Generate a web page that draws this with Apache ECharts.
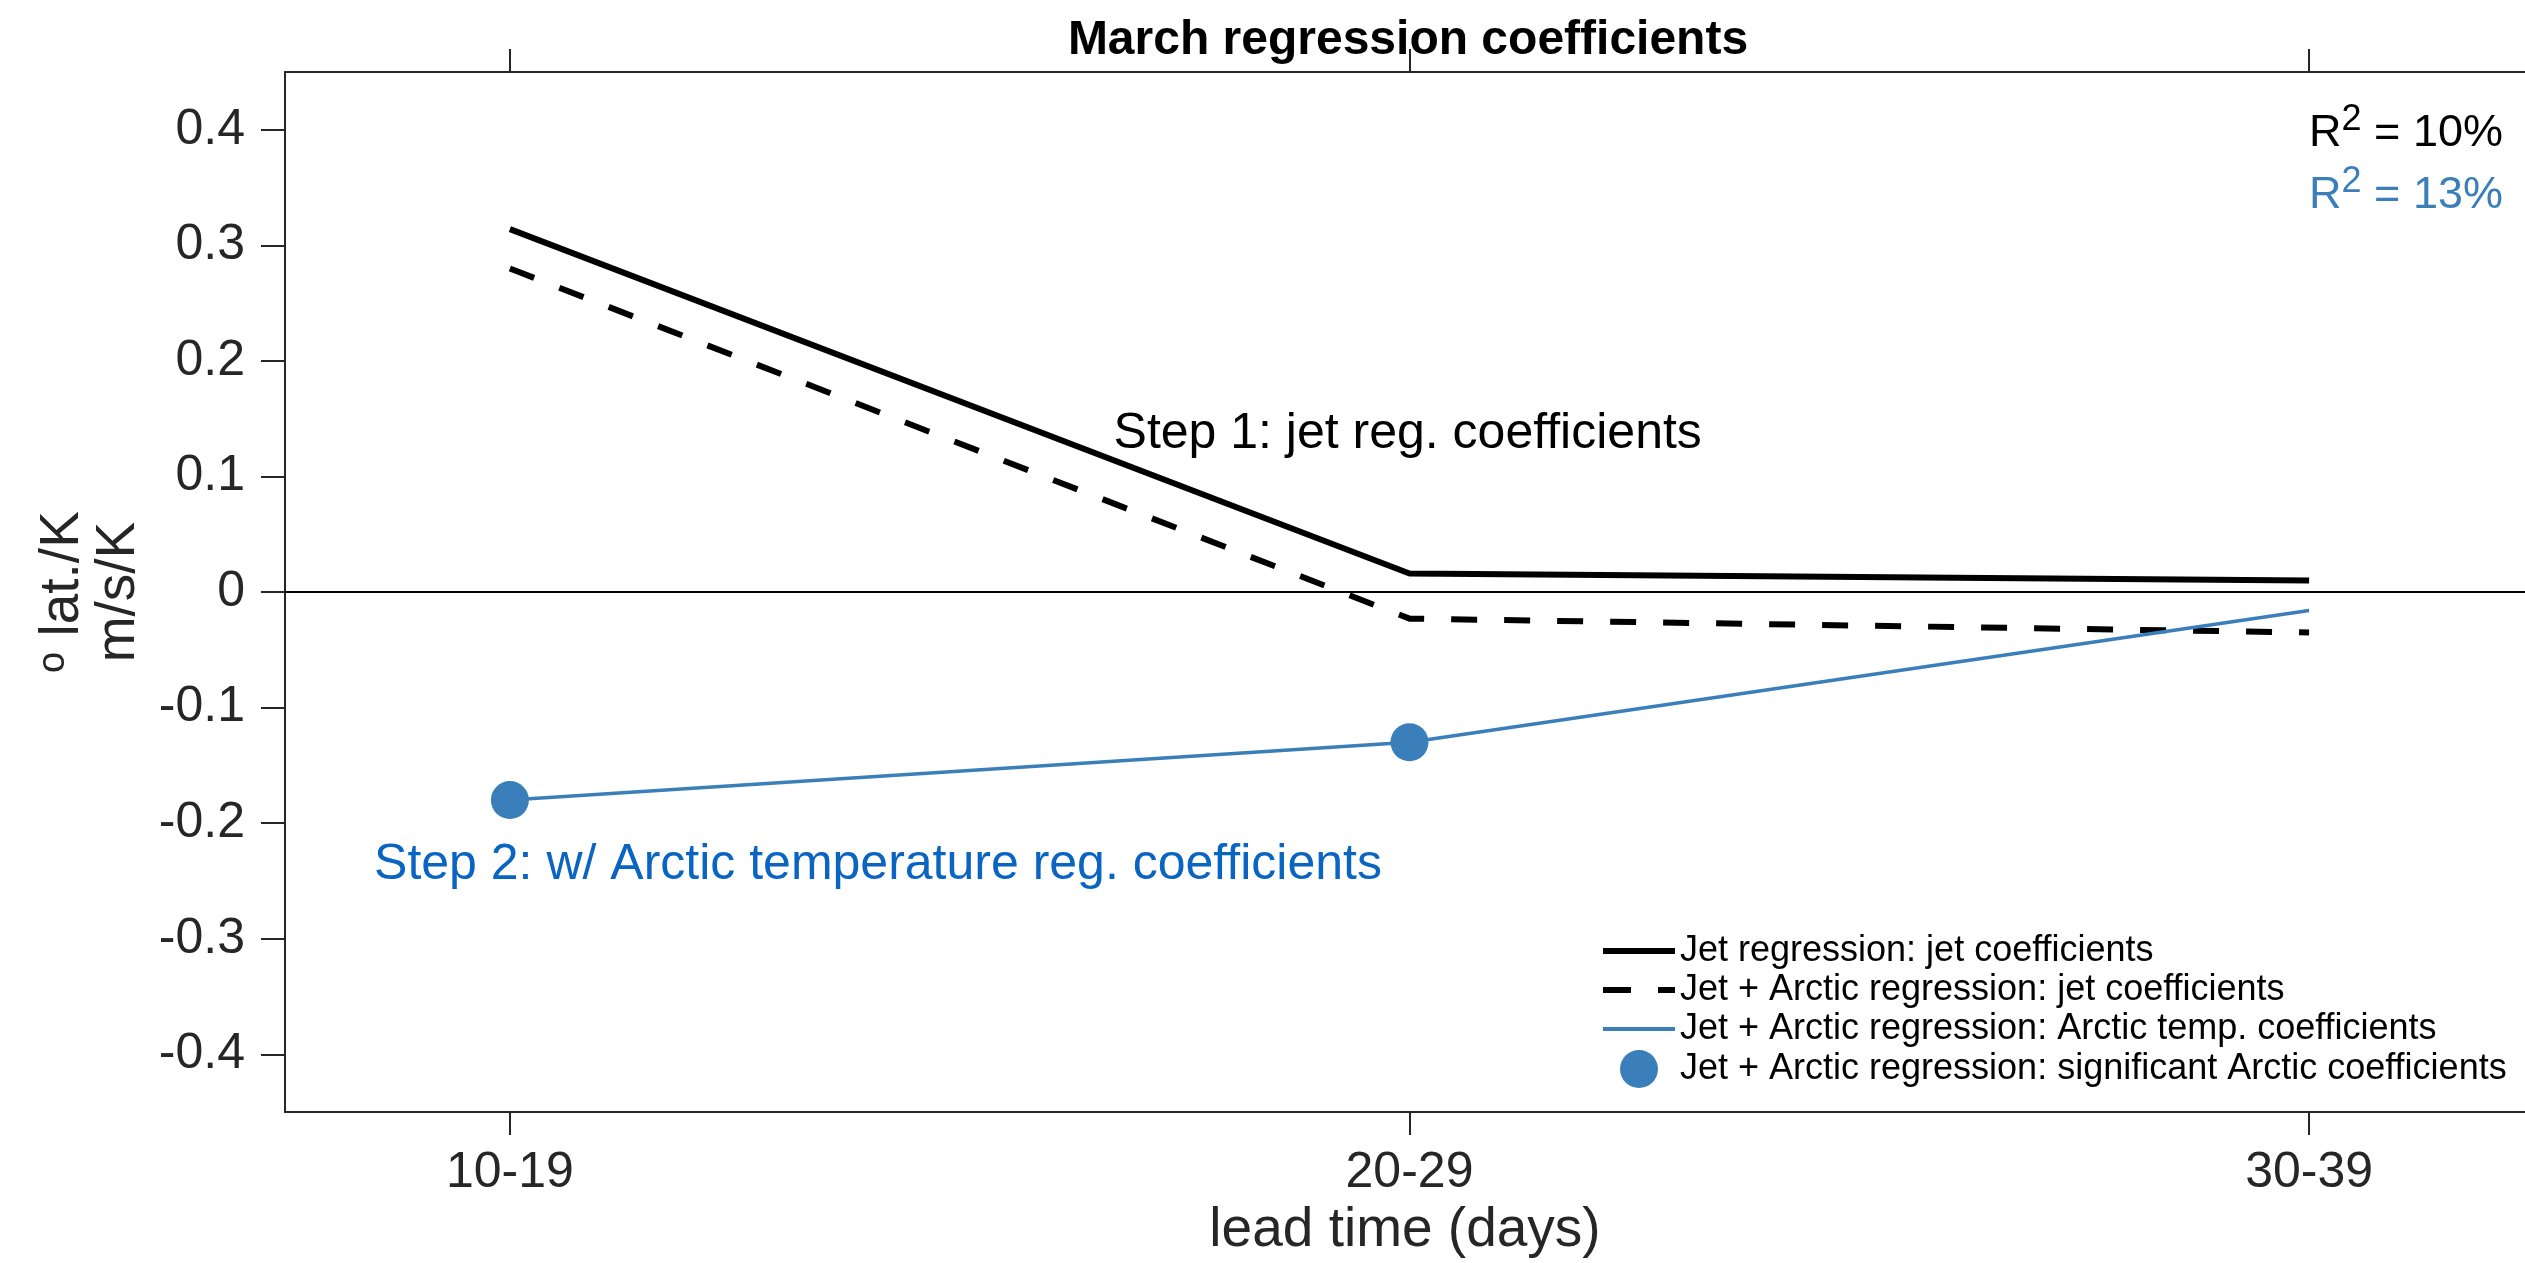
<!DOCTYPE html>
<html><head><meta charset="utf-8">
<script src="https://cdn.jsdelivr.net/npm/echarts@6/dist/echarts.min.js"></script>
<style>html,body{margin:0;padding:0;background:#fff}#c{width:2525px;height:1263px}</style>
</head><body><div id="c"></div>
<script>
// ---- data ----
const leadTimes = ['10-19', '20-29', '30-39'];
const leadPos = [1, 2, 3];
const jetOnly = [0.314, 0.016, 0.010];
const jetWithArctic = [0.280, -0.023, -0.035];
const arcticCoef = [-0.180, -0.130, -0.016];
const arcticSignificant = [true, true, false];
const yTicks = [-0.4, -0.3, -0.2, -0.1, 0, 0.1, 0.2, 0.3, 0.4];
const legendNames = [
  'Jet regression: jet coefficients',
  'Jet + Arctic regression: jet coefficients',
  'Jet + Arctic regression: Arctic temp. coefficients',
  'Jet + Arctic regression: significant Arctic coefficients'
];
const r2Jet = '10%';
const r2Arctic = '13%';

// ---- styling ----
const FONT = '"Liberation Sans", Arial, Helvetica, sans-serif';
const AX = '#262626';
const BLUE = '#3a7eba';
const BLUE_TXT = '#0a64c2';

const pts = arr => arr.map((v, i) => [leadPos[i], v]);
const sigPts = arcticCoef.map((v, i) => arcticSignificant[i] ? [leadPos[i], v] : null).filter(Boolean);

const chart = echarts.init(document.getElementById('c'), null, {renderer: 'canvas'});

const option = {
  animation: false,
  backgroundColor: '#fff',
  textStyle: {fontFamily: FONT},
  title: {
    text: 'March regression coefficients', left: 1408, top: 17, textAlign: 'center', padding: 0,
    textStyle: {fontSize: 48, fontWeight: 'bold', color: '#000', fontFamily: FONT}
  },
  grid: {left: 285, right: 0, top: 72, bottom: 147, containLabel: false},
  xAxis: [{
    type: 'value', position: 'bottom', min: 0.75, max: 3.24,
    name: 'lead time (days)', nameLocation: 'middle', nameGap: 88,
    nameTextStyle: {fontSize: 55, color: AX, fontFamily: FONT},
    axisLine: {show: true, onZero: false, lineStyle: {color: AX, width: 2}},
    axisTick: {show: true, inside: false, length: 23, customValues: leadPos, lineStyle: {color: AX, width: 2}},
    axisLabel: {show: true, customValues: leadPos, margin: 36, fontSize: 50, color: AX, fontFamily: FONT,
      formatter: v => leadTimes[Math.round(v) - 1]},
    splitLine: {show: false}
  }, {
    type: 'value', position: 'top', min: 0.75, max: 3.24,
    axisLine: {show: true, onZero: false, lineStyle: {color: AX, width: 2}},
    axisTick: {show: true, inside: false, length: 23, customValues: leadPos, lineStyle: {color: AX, width: 2}},
    axisLabel: {show: false},
    splitLine: {show: false}
  }],
  yAxis: {
    type: 'value', position: 'left', min: -0.45, max: 0.45,
    name: '{s|o} {m|lat./K}\n{m|m/s/K}', nameLocation: 'middle', nameRotate: 90, nameGap: 138,
    nameTextStyle: {
      color: AX, fontFamily: FONT, fontSize: 55, lineHeight: 56,
      rich: {
        s: {fontSize: 38, lineHeight: 6, verticalAlign: 'top', color: AX, fontFamily: FONT},
        m: {fontSize: 55, lineHeight: 56, color: AX, fontFamily: FONT}
      }
    },
    axisLine: {show: true, onZero: false, lineStyle: {color: AX, width: 2}},
    axisTick: {show: true, inside: false, length: 24, customValues: yTicks, lineStyle: {color: AX, width: 2}},
    axisLabel: {customValues: yTicks, margin: 40, fontSize: 50, color: AX, fontFamily: FONT,
      formatter: v => Math.abs(v) < 1e-9 ? '0' : v.toFixed(1)},
    splitLine: {show: false}
  },
  legend: {
    orient: 'vertical', left: 1603, top: 933, padding: 0, itemGap: 3,
    itemWidth: 72, itemHeight: 38, selectedMode: false,
    textStyle: {fontSize: 36, color: '#000', fontFamily: FONT},
    data: [
      {name: legendNames[0], icon: 'path://M0,0H72V6H0Z', itemStyle: {color: '#000', borderWidth: 0, opacity: 1}},
      {name: legendNames[1], icon: 'path://M0,0H28V6H0Z M55,0H72V6H55Z', itemStyle: {color: '#000', borderWidth: 0, opacity: 1}},
      {name: legendNames[2], icon: 'path://M0,0H72V4H0Z', itemStyle: {color: BLUE, borderWidth: 0, opacity: 1}},
      {name: legendNames[3], icon: 'circle', itemStyle: {color: BLUE, borderWidth: 0, opacity: 1}}
    ]
  },
  series: [{
    name: legendNames[0], type: 'line', data: pts(jetOnly), symbol: 'none', z: 4,
    lineStyle: {color: '#000', width: 6}, itemStyle: {color: '#000'},
    markLine: {silent: true, symbol: ['none', 'none'], label: {show: false},
      lineStyle: {color: '#000', width: 2, type: 'solid'}, data: [{yAxis: 0}]}
  }, {
    name: legendNames[1], type: 'line', data: pts(jetWithArctic), symbol: 'none', z: 4,
    lineStyle: {color: '#000', width: 6, type: [26, 27]}, itemStyle: {color: '#000'}
  }, {
    name: legendNames[2], type: 'line', data: pts(arcticCoef), symbol: 'none', z: 4,
    lineStyle: {color: BLUE, width: 3.5}, itemStyle: {color: BLUE}
  }, {
    name: legendNames[3], type: 'scatter', data: sigPts, symbol: 'circle', symbolSize: 38, z: 5,
    itemStyle: {color: BLUE, opacity: 1}
  }]
};
chart.setOption(option);

// annotations anchored in data coordinates
const annot = {
  step1: [1.671, 0.137],
  step2: [0.849, -0.236],
  r2: [3.0, 0.370]
};
const px = p => chart.convertToPixel({seriesIndex: 0}, p);
const p1 = px(annot.step1), p2 = px(annot.step2), p3 = px(annot.r2);
chart.setOption({
  graphic: [
    {type: 'text', x: p1[0], y: p1[1], z: 10,
      style: {text: 'Step 1: jet reg. coefficients', fill: '#000', fontSize: 50, fontFamily: FONT, align: 'left', verticalAlign: 'middle'}},
    {type: 'text', x: p2[0], y: p2[1], z: 10,
      style: {text: 'Step 2: w/ Arctic temperature reg. coefficients', fill: BLUE_TXT, fontSize: 50, fontFamily: FONT, align: 'left', verticalAlign: 'middle'}},
    {type: 'text', x: p3[0], y: p3[1], z: 10,
      style: {
        text: '{k|R}{ks|2}{k| = ' + r2Jet + '}\n{b|R}{bs|2}{b| = ' + r2Arctic + '}',
        align: 'left', verticalAlign: 'middle', fontFamily: FONT, fontSize: 45, lineHeight: 62,
        rich: {
          k: {fill: '#000', fontSize: 45, lineHeight: 62, fontFamily: FONT},
          ks: {fill: '#000', fontSize: 36, lineHeight: 24, verticalAlign: 'top', fontFamily: FONT},
          b: {fill: BLUE, fontSize: 45, lineHeight: 62, fontFamily: FONT},
          bs: {fill: BLUE, fontSize: 36, lineHeight: 24, verticalAlign: 'top', fontFamily: FONT}
        }
      }}
  ]
});
</script>
</body></html>
